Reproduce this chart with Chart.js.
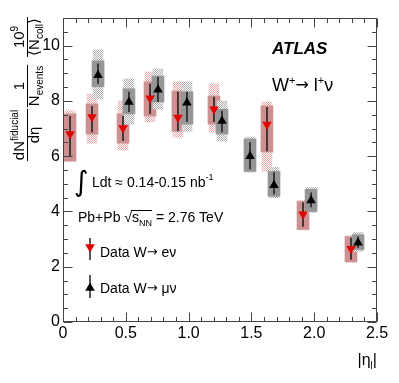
<!DOCTYPE html>
<html><head><meta charset="utf-8">
<script src="https://cdn.jsdelivr.net/npm/chart.js@4"></script>
<style>html,body{margin:0;padding:0;background:#fff}canvas{display:block}</style>
</head><body>
<canvas id="c" width="399" height="383"></canvas>
<script>
// ---- data ----
const xTicks = [0, 0.5, 1, 1.5, 2, 2.5];
const yTicks = [0, 2, 4, 6, 8, 10];

const eEta    = [0.056, 0.231, 0.478, 0.693, 0.915, 1.202, 1.624, 1.911, 2.293];
const eVal    = [6.80, 7.42, 7.02, 8.10, 7.40, 7.70, 7.15, 3.90, 2.65];
const eStatLo = [6.00, 6.87, 6.55, 7.53, 6.90, 7.24, 6.18, 3.45, 2.25];
const eStatHi = [7.45, 7.82, 7.45, 8.62, 8.33, 8.15, 7.78, 4.33, 3.05];
const eSysLo  = [5.82, 6.80, 6.47, 7.45, 6.90, 7.16, 6.15, 3.35, 2.18];
const eSysHi  = [7.53, 7.89, 7.53, 8.69, 8.36, 8.18, 7.82, 4.36, 3.09];
const eTotLo  = [5.82, 6.47, 6.22, 7.24, 6.69, 6.87, 5.45, 3.33, 2.15];
const eTotHi  = [7.64, 8.25, 8.00, 9.05, 8.69, 8.62, 7.96, 4.40, 3.12];

const mEta    = [0.279, 0.525, 0.756, 0.987, 1.266, 1.489, 1.680, 1.975, 2.349];
const mVal    = [8.93, 7.96, 8.40, 7.93, 7.27, 6.00, 4.95, 4.40, 2.87];
const mStatLo = [8.62, 7.60, 7.96, 7.24, 6.87, 5.53, 4.62, 4.15, 2.69];
const mStatHi = [9.35, 8.33, 8.87, 8.33, 7.64, 6.50, 5.42, 4.69, 3.09];
const mSysLo  = [8.51, 7.53, 7.96, 7.16, 6.80, 5.45, 4.55, 4.00, 2.62];
const mSysHi  = [9.45, 8.44, 8.90, 8.33, 7.70, 6.62, 5.45, 4.80, 3.16];
const mTotLo  = [8.07, 7.16, 7.70, 6.90, 6.55, 5.42, 4.50, 3.96, 2.55];
const mTotHi  = [9.85, 8.80, 9.16, 8.69, 8.00, 6.69, 5.60, 4.87, 3.24];

// ---- helpers ----
const FONT = '"Liberation Sans", Arial, Helvetica, sans-serif';
const canvas = document.getElementById('c');
const ctx0 = canvas.getContext('2d');
function checker(a, b) {
  const cv = document.createElement('canvas'); cv.width = 2; cv.height = 2;
  const g = cv.getContext('2d');
  g.fillStyle = b; g.fillRect(0, 0, 2, 2);
  g.fillStyle = a; g.fillRect(0, 0, 1, 1); g.fillRect(1, 1, 1, 1);
  return ctx0.createPattern(cv, 'repeat');
}
const pinkHatch = checker('rgb(232,165,165)', '#ffffff');
const greyHatch = checker('rgb(170,170,170)', '#ffffff');
const boxes = (eta, lo, hi) => eta.map((x, i) => ({x: x, y: [lo[i], hi[i]]}));
const pts = (eta, v) => eta.map((x, i) => ({x: x, y: v[i]}));

function fnt(p) { return (p[3] || '') + ' ' + p[1] + 'px ' + (p[4] || FONT); }
function runs(ctx, x, y, parts, align) {
  let w = 0;
  for (const p of parts) { ctx.font = fnt(p); w += ctx.measureText(p[0]).width; }
  let cx = align === 'right' ? x - w : align === 'center' ? x - w / 2 : x;
  const starts = [];
  for (const p of parts) {
    ctx.font = fnt(p);
    starts.push(cx);
    ctx.fillText(p[0], cx, y + (p[2] || 0));
    cx += ctx.measureText(p[0]).width;
  }
  starts.push(cx);
  return {w: w, starts: starts};
}
function measure(ctx, parts) {
  let w = 0;
  for (const p of parts) { ctx.font = fnt(p); w += ctx.measureText(p[0]).width; }
  return w;
}
function tri(ctx, x, y, r, down) {
  ctx.beginPath();
  if (down) { ctx.moveTo(x - r * 0.87, y - r * 0.5); ctx.lineTo(x + r * 0.87, y - r * 0.5); ctx.lineTo(x, y + r); }
  else { ctx.moveTo(x - r * 0.87, y + r * 0.5); ctx.lineTo(x + r * 0.87, y + r * 0.5); ctx.lineTo(x, y - r); }
  ctx.closePath(); ctx.fill();
}
const DJ = '"DejaVu Sans", sans-serif';

const decor = {
  id: 'decor',
  afterDraw(chart) {
    const ctx = chart.ctx;
    const xs = chart.scales.x, ys = chart.scales.y;
    const {left, right, top, bottom} = chart.chartArea;
    ctx.save();
    // frame and inner ticks
    ctx.strokeStyle = '#444'; ctx.lineWidth = 1;
    const L = Math.round(left) + 0.5, R = Math.round(right) - 0.5, T = Math.round(top) + 0.5, B = Math.round(bottom) - 0.5;
    ctx.strokeRect(L, T, R - L, B - T);
    ctx.beginPath();
    for (let i = 0; i <= 25; i++) {
      const p = Math.round(xs.getPixelForValue(i / 10)) + 0.5;
      const len = i % 5 === 0 ? 9 : 4.5;
      ctx.moveTo(p, B); ctx.lineTo(p, B - len);
      ctx.moveTo(p, T); ctx.lineTo(p, T + len);
    }
    for (let i = 0; i <= 22; i++) {
      const p = Math.round(ys.getPixelForValue(i / 2)) + 0.5;
      const len = i % 4 === 0 ? 9 : 4.5;
      ctx.moveTo(L, p); ctx.lineTo(L + len, p);
      ctx.moveTo(R, p); ctx.lineTo(R - len, p);
    }
    ctx.stroke();

    ctx.fillStyle = '#000';
    ctx.textBaseline = 'alphabetic';
    // ATLAS label
    runs(ctx, 272, 54, [['ATLAS', 17, 0, 'italic bold']]);
    runs(ctx, 272, 91, [['W', 18], ['+', 11, -7], ['\u2192', 16, -1, '', DJ], [' l', 18], ['+', 11, -7], ['\u03bd', 18]]);
    // luminosity
    ctx.font = '28px "DejaVu Sans"';
    ctx.fillText('\u222b', 74, 191);
    runs(ctx, 92, 187, [['Ldt \u2248 0.14-0.15 nb', 14], ['-1', 9, -7]]);
    // energy
    const r = runs(ctx, 78, 222, [['Pb+Pb ', 14], ['\u221a', 14], ['s', 14], ['NN', 9, 4], [' = 2.76 TeV', 14]]);
    ctx.beginPath(); ctx.lineWidth = 1; ctx.strokeStyle = '#000';
    ctx.moveTo(r.starts[2] - 1, 210.5); ctx.lineTo(r.starts[4], 210.5); ctx.stroke();
    // legend
    ctx.fillStyle = '#222'; ctx.fillRect(89.25, 238, 1.5, 22);
    ctx.fillStyle = 'rgb(225,0,0)'; tri(ctx, 90, 247, 5.5, true);
    ctx.fillStyle = '#000';
    runs(ctx, 100, 257, [['Data W', 14], ['\u2192', 13, -1, '', DJ], [' e\u03bd', 14]]);
    ctx.fillStyle = '#222'; ctx.fillRect(89.25, 275, 1.5, 23);
    ctx.fillStyle = '#000'; tri(ctx, 90, 288, 5.5, false);
    runs(ctx, 100, 293, [['Data W', 14], ['\u2192', 13, -1, '', DJ], [' \u03bc\u03bd', 14]]);
    // x title
    runs(ctx, 377, 365, [['|\u03b7', 16], ['l', 10, 4], ['|', 16]], 'right');
    // y title (rotated fractions)
    ctx.translate(27, 0);
    ctx.rotate(-Math.PI / 2);
    function frac(cy, num, den) {
      const lx = -cy;
      const w = Math.max(measure(ctx, num), measure(ctx, den)) + 2;
      runs(ctx, lx, -3, num, 'center');
      runs(ctx, lx, 12, den, 'center');
      ctx.beginPath(); ctx.moveTo(lx - w / 2, 0.5); ctx.lineTo(lx + w / 2, 0.5); ctx.stroke();
    }
    frac(135, [['dN', 15], ['fiducial', 10, -6]], [['d\u03b7', 15]]);
    frac(86, [['1', 15]], [['N', 15], ['events', 10, 4]]);
    frac(37, [['10', 15], ['9', 10, -6]], [['\u27e8', 15], ['N', 15], ['coll', 10, 4], ['\u27e9', 15]]);
    ctx.restore();
  }
};

new Chart(canvas, {
  type: 'bar',
  data: {
    datasets: [
      {type: 'scatter', data: pts(mEta, mVal), pointStyle: 'triangle', pointRadius: 5.5, backgroundColor: '#000', borderColor: '#000', borderWidth: 0, order: 0},
      {type: 'scatter', data: pts(eEta, eVal), pointStyle: 'triangle', rotation: 180, pointRadius: 5.5, backgroundColor: 'rgb(225,0,0)', borderColor: 'rgb(225,0,0)', borderWidth: 0, order: 0},
      {data: boxes(mEta, mStatLo, mStatHi), backgroundColor: '#222', barThickness: 1.6, inflateAmount: 0, stack: 's', order: 1},
      {data: boxes(eEta, eStatLo, eStatHi), backgroundColor: '#222', barThickness: 1.6, inflateAmount: 0, stack: 's', order: 1},
      {data: boxes(mEta, mSysLo, mSysHi), backgroundColor: 'rgb(150,150,150)', barThickness: 12, stack: 's', order: 2},
      {data: boxes(mEta, mTotLo, mTotHi), backgroundColor: greyHatch, barThickness: 10, stack: 's', order: 3},
      {data: boxes(eEta, eSysLo, eSysHi), backgroundColor: 'rgb(205,145,145)', barThickness: 12, stack: 's', order: 4},
      {data: boxes(eEta, eTotLo, eTotHi), backgroundColor: pinkHatch, barThickness: 10, stack: 's', order: 5}
    ]
  },
  options: {
    responsive: false,
    animation: false,
    events: [],
    layout: {padding: {top: 18, right: 22, left: 0, bottom: 0}},
    plugins: {legend: {display: false}, tooltip: {enabled: false}},
    scales: {
      x: {
        type: 'linear', min: xTicks[0], max: xTicks[xTicks.length - 1], offset: false,
        grid: {display: false, drawTicks: false}, border: {display: false},
        afterBuildTicks: s => { s.ticks = xTicks.map(v => ({value: v})); },
        ticks: {color: '#000', font: {family: FONT, size: 16}, padding: 2, maxRotation: 0},
        afterFit: s => { s.height = 61; }
      },
      y: {
        type: 'linear', min: 0, max: 11, stacked: false,
        grid: {display: false, drawTicks: false}, border: {display: false},
        afterBuildTicks: s => { s.ticks = yTicks.map(v => ({value: v})); },
        ticks: {color: '#000', font: {family: FONT, size: 16}, padding: 3},
        afterFit: s => { s.width = 63; }
      }
    }
  },
  plugins: [decor]
});
</script>
</body></html>
